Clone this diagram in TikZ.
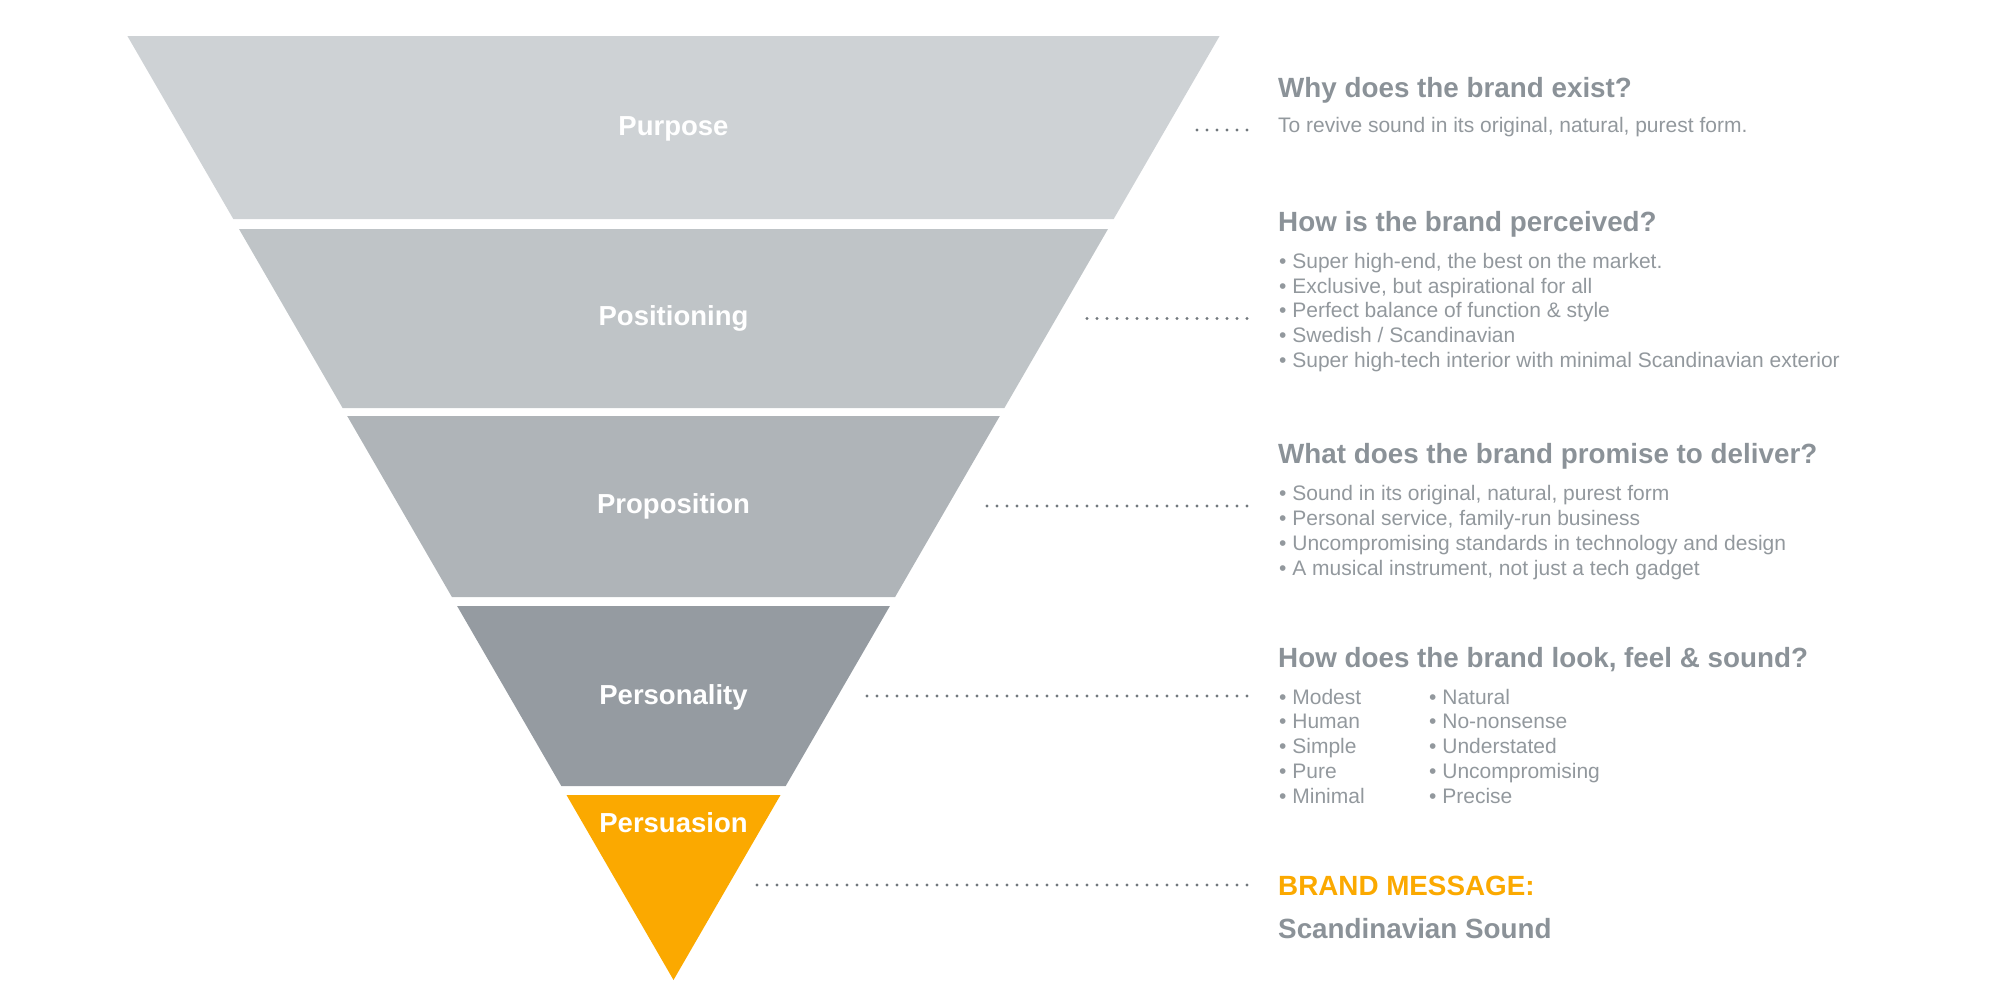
\documentclass[tikz,border=0pt]{standalone}
\usepackage{fontspec}
\setmainfont{Liberation Sans}

\definecolor{purposegray}{HTML}{CED2D5}
\definecolor{positiongray}{HTML}{BFC4C7}
\definecolor{propositiongray}{HTML}{AFB4B8}
\definecolor{personalitygray}{HTML}{959BA1}
\definecolor{brandorange}{HTML}{FBA900}
\definecolor{headgray}{HTML}{8B9298}
\definecolor{bodygray}{HTML}{92989D}
\definecolor{dotgray}{HTML}{71777C}

\begin{document}
\begin{tikzpicture}[x=1pt, y=-1pt,
  funnellabel/.style={text=white, font=\fontsize{27.5}{33}\selectfont\bfseries, anchor=base, inner sep=0pt},
  headtext/.style={text=headgray, font=\fontsize{27.8}{33}\selectfont\bfseries, anchor=base west, inner sep=0pt},
  bodytext/.style={text=bodygray, font=\fontsize{21}{25}\selectfont, anchor=base west, inner sep=0pt},
  dotline/.style={draw=dotgray, line width=3.4pt, line cap=round, dash pattern=on 0pt off 10pt}]

\useasboundingbox (0,0) rectangle (2000,1007);

% Funnel
\fill[purposegray] (127.4,36) -- (1219.6,36) -- (1113.7,219) -- (233.3,219) -- cycle;
\fill[positiongray] (239.0,229) -- (1108.0,229) -- (1004.4,408) -- (342.6,408) -- cycle;
\fill[propositiongray] (347.2,416) -- (999.8,416) -- (895.1,597) -- (451.9,597) -- cycle;
\fill[personalitygray] (457.1,606) -- (889.9,606) -- (785.7,786) -- (561.3,786) -- cycle;
\fill[brandorange] (566.5,795) -- (780.5,795) -- (673.5,980) -- cycle;

\node[funnellabel] (purpose) at (673.5,135) {Purpose};
\node[funnellabel] (positioning) at (673.5,325) {Positioning};
\node[funnellabel] (proposition) at (673.5,513.7) {Proposition};
\node[funnellabel] (personality) at (673.5,704.4) {Personality};
\node[funnellabel] (persuasion) at (673.5,832.6) {Persuasion};

% Dotted leaders
\coordinate (purposeA) at (1197,130);
\coordinate (purposeB) at (1251,130);
\coordinate (positionA) at (1087,318.5);
\coordinate (positionB) at (1251,318.5);
\coordinate (propositionA) at (987,506);
\coordinate (propositionB) at (1251,506);
\coordinate (personalityA) at (867,696);
\coordinate (personalityB) at (1251,696);
\coordinate (persuasionA) at (757,885);
\coordinate (persuasionB) at (1251,885);

\draw[dotline] (purposeA) -- (purposeB);
\draw[dotline] (positionA) -- (positionB);
\draw[dotline] (propositionA) -- (propositionB);
\draw[dotline] (personalityA) -- (personalityB);
\draw[dotline] (persuasionA) -- (persuasionB);

% Purpose text
\node[headtext] (whyhead) at (1278,97.3) {Why does the brand exist?};
\node[bodytext] (whybody) at (1278,132.7) {To revive sound in its original, natural, purest form.};

% Positioning text
\node[headtext] (perceivedhead) at (1278,231.7) {How is the brand perceived?};
\foreach \txt [count=\i] in {{Super high-end, the best on the market.},
    {Exclusive, but aspirational for all},
    {Perfect balance of function \& style},
    {Swedish / Scandinavian},
    {Super high-tech interior with minimal Scandinavian exterior}}
  \node[bodytext] (perceived\i) at (1279,{268.3+24.75*(\i-1)}) {\textbullet\ \txt};

% Proposition text
\node[headtext] (promisehead) at (1278,463) {What does the brand promise to deliver?};
\foreach \txt [count=\i] in {{Sound in its original, natural, purest form},
    {Personal service, family-run business},
    {Uncompromising standards in technology and design},
    {A musical instrument, not just a tech gadget}}
  \node[bodytext] (promise\i) at (1279,{500.7+25*(\i-1)}) {\textbullet\ \txt};

% Personality text
\node[headtext] (lookhead) at (1278,667) {How does the brand look, feel \& sound?};
\foreach \txt [count=\i] in {Modest, Human, Simple, Pure, Minimal}
  \node[bodytext] (lookA\i) at (1279,{704+24.8*(\i-1)}) {\textbullet\ \txt};
\foreach \txt [count=\i] in {Natural, No-nonsense, Understated, Uncompromising, Precise}
  \node[bodytext] (lookB\i) at (1429,{704+24.8*(\i-1)}) {\textbullet\ \txt};

% Persuasion text
\node[headtext, text=brandorange] (messagehead) at (1278,895) {BRAND MESSAGE:};
\node[headtext] (messagebody) at (1278,938.3) {Scandinavian Sound};

\end{tikzpicture}
\end{document}
